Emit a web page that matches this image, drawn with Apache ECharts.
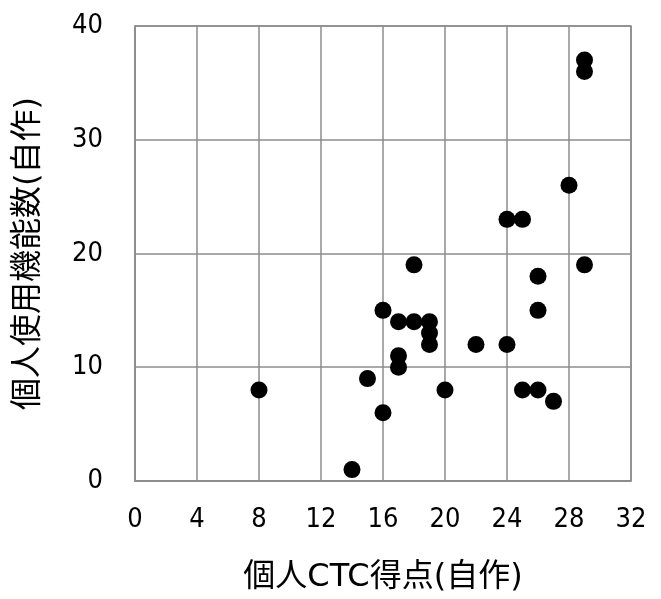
<!DOCTYPE html>
<html>
<head>
<meta charset="utf-8">
<script src="https://cdn.jsdelivr.net/npm/echarts@6/dist/echarts.min.js"></script>
<style>html,body{margin:0;padding:0;background:#fff;}#c{width:661px;height:599px;}</style>
</head>
<body>
<div id="c"></div>
<script>
const xValues = [8, 14, 15, 16, 16, 17, 17, 17, 18, 18, 19, 19, 19, 20, 22, 24, 24, 25, 25, 26, 26, 26, 27, 28, 29, 29, 29];
const yValues = [8, 1, 9, 6, 15, 14, 11, 10, 19, 14, 14, 13, 12, 8, 12, 23, 12, 23, 8, 18, 15, 8, 7, 26, 37, 36, 19];
const xTitle = '個人CTC得点(自作)';
const yTitle = '個人使用機能数(自作)';

const tickFont = '"DejaVu Sans Condensed", "DejaVu Sans", sans-serif';
const titleFont = '"DejaVu Sans", "Noto Sans CJK JP", sans-serif';
const gridColor = '#8c8c8c';
const chart = echarts.init(document.getElementById('c'), null, {renderer: 'canvas'});
chart.setOption({
  animation: false,
  backgroundColor: '#fff',
  grid: {left: 135, right: 30, top: 26, bottom: 117, show: true, borderColor: gridColor, borderWidth: 1.5, backgroundColor: 'transparent'},
  xAxis: {
    type: 'value', min: 0, max: 32, interval: 4,
    name: xTitle, nameLocation: 'middle', nameGap: 81,
    nameTextStyle: {fontFamily: titleFont, fontSize: 32, color: '#000'},
    axisLine: {show: true, lineStyle: {color: gridColor, width: 1.5}},
    axisTick: {show: false},
    axisLabel: {fontFamily: tickFont, fontSize: 27, color: '#000', margin: 25},
    splitLine: {show: true, lineStyle: {color: gridColor, width: 1.5}}
  },
  yAxis: {
    type: 'value', min: 0, max: 40, interval: 10,
    name: yTitle, nameLocation: 'middle', nameGap: 90,
    nameTextStyle: {fontFamily: titleFont, fontSize: 32, color: '#000'},
    axisLine: {show: true, lineStyle: {color: gridColor, width: 1.5}},
    axisTick: {show: false},
    axisLabel: {fontFamily: tickFont, fontSize: 27, color: '#000', margin: 32, verticalAlign: 'middle', padding: [0, 0, 8, 0]},
    splitLine: {show: true, lineStyle: {color: gridColor, width: 1.5}}
  },
  series: [{
    type: 'scatter',
    symbol: 'circle',
    symbolSize: 17,
    itemStyle: {color: '#000', opacity: 1},
    data: xValues.map((x, i) => [x, yValues[i]])
  }]
});
</script>
</body>
</html>
